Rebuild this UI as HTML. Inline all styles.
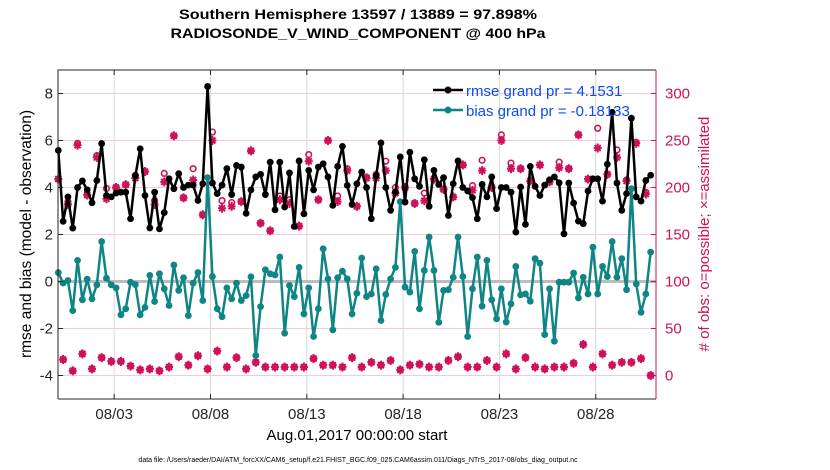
<!DOCTYPE html>
<html><head><meta charset="utf-8"><style>
body{margin:0;background:#fff;}
svg{display:block;font-family:"Liberation Sans",sans-serif;}
</style></head><body>
<svg id="chart" width="830" height="470" viewBox="0 0 830 470" xmlns="http://www.w3.org/2000/svg">
<rect width="830" height="470" fill="#fff"/>
<text x="358" y="19" text-anchor="middle" font-size="14" font-weight="bold" textLength="358" lengthAdjust="spacingAndGlyphs">Southern Hemisphere 13597 / 13889 = 97.898%</text>
<text x="358" y="38" text-anchor="middle" font-size="14" font-weight="bold" textLength="375" lengthAdjust="spacingAndGlyphs">RADIOSONDE_V_WIND_COMPONENT @ 400 hPa</text>
<g id="grid"></g>
<g id="series"></g>
<g id="axes"></g>
<text transform="translate(31,234) rotate(-90)" text-anchor="middle" font-size="15.5">rmse and bias (model - observation)</text>
<text transform="translate(709,234) rotate(-90)" text-anchor="middle" font-size="15" fill="#d0105a"># of obs: o=possible; ×=assimilated</text>
<text x="357" y="440" text-anchor="middle" font-size="15">Aug.01,2017 00:00:00 start</text>
<text x="358" y="462" text-anchor="middle" font-size="7">data file: /Users/raeder/DAI/ATM_forcXX/CAM6_setup/f.e21.FHIST_BGC.f09_025.CAM6assim.011/Diags_NTrS_2017-08/obs_diag_output.nc</text>
<g id="legend">
  <line x1="433" y1="90" x2="463" y2="90" stroke="#000" stroke-width="2.5"/>
  <circle cx="448" cy="90" r="3.5" fill="#000"/>
  <text x="466" y="96" font-size="15" fill="#0a4cf0">rmse grand pr = 4.1531</text>
  <line x1="433" y1="110" x2="463" y2="110" stroke="#0f8585" stroke-width="2.5"/>
  <circle cx="448" cy="110" r="3.5" fill="#0f8585"/>
  <text x="466" y="116" font-size="15" fill="#0a4cf0">bias grand pr = -0.18133</text>
</g>
</svg>
<script>
const rmse=[5.58,2.56,3.6,2.27,4.0,4.28,3.9,3.35,4.3,5.87,
3.66,3.6,3.76,3.8,3.8,2.67,4.5,5.65,3.66,2.28,
3.8,2.24,2.93,4.37,3.95,4.59,4.0,4.1,4.1,3.45,
4.16,8.3,4.19,3.74,4.1,4.8,3.7,4.94,4.87,2.9,
3.9,4.45,4.56,3.7,5.08,3.05,5.08,3.17,4.62,2.34,
5.13,2.88,4.73,3.9,4.87,5.01,4.45,3.24,4.9,5.75,
4.09,3.28,4.16,4.66,4.0,2.67,4.5,5.9,4.0,3.03,
3.8,5.3,3.38,5.5,4.37,4.05,5.18,3.2,4.73,4.13,
4.42,2.81,4.16,5.13,4.0,3.85,3.57,2.67,4.13,3.6,
4.45,3.1,4.0,4.0,3.8,2.1,4.02,2.43,4.9,4.05,
3.66,4.1,4.33,4.45,4.2,2.03,4.19,3.34,2.57,2.46,
3.85,4.37,4.37,3.42,4.99,7.2,4.19,3.03,3.74,6.95,
3.6,3.42,4.3,4.52];
const bias=[0.38,-0.07,0.04,-1.24,0.9,-0.78,0.1,-0.74,-0.14,1.7,
0.14,-0.14,-0.27,-1.42,-1.16,-0.03,-0.13,-1.42,-1.1,0.26,
-0.85,0.33,-0.31,-1.02,0.7,-0.38,0.16,-1.45,-0.07,0.38,
-0.81,4.42,0.21,-1.16,-1.5,-0.27,-0.74,-0.07,-0.81,-0.6,
0.2,-3.15,-1.07,0.5,0.33,0.28,1.04,-2.2,-0.17,-0.64,
0.6,-1.38,-0.27,-2.34,-1.16,1.39,0.11,-2.06,0.16,0.44,
0.11,-1.38,-0.5,1.0,-0.64,-0.53,0.54,-1.66,-0.55,0.11,
0.6,3.4,-0.24,-0.45,1.28,-1.16,0.47,1.89,0.47,-1.74,
-0.38,-0.35,0.18,1.89,0.21,-2.34,-0.31,1.04,-1.05,0.9,
-0.78,-1.59,-0.31,-1.73,-0.95,0.64,-0.57,-0.53,-0.84,0.97,
0.78,-2.26,-0.31,-2.54,-0.03,-0.03,-0.03,0.36,-0.7,0.18,
-0.53,1.46,-0.53,0.64,0.21,1.7,0.18,0.97,-0.35,3.95,
-0.1,-1.31,-0.53,1.25];
const assimilated=[209,17,182,5,245,23,192,7,232,19,
188,15,200,15,203,10,210,6,217,7,
182,5,206,9,255,20,189,11,208,21,
171,7,250,26,178,9,180,19,185,7,
239,14,162,9,154,9,187,9,183,9,
159,9,228,18,187,11,250,11,185,9,
218,19,180,9,210,14,210,11,218,16,
194,6,200,11,183,12,186,9,209,9,
198,16,190,20,224,9,197,9,218,16,
200,9,250,23,220,7,220,19,207,9,
224,7,206,9,221,9,220,13,256,33,
209,9,242,23,214,11,232,14,207,14,
247,18,193,0];
const possible=[209,17,185,5,247,23,192,7,234,19,
199,15,200,15,203,10,213,6,217,7,
186,5,215,9,255,20,189,11,220,21,
171,7,259,26,186,9,184,19,185,7,
239,14,162,9,154,9,191,9,187,9,
159,9,235,18,187,11,250,11,191,9,
220,19,180,9,211,14,214,11,228,16,
200,6,200,11,183,12,194,9,209,9,
198,16,190,20,224,9,202,9,229,16,
200,9,256,23,226,7,220,19,207,9,
224,7,206,9,227,9,220,13,256,33,
209,9,263,23,214,11,240,14,208,14,
248,18,195,0];
const leftTicks=[-4,-2,0,2,4,6,8];
const rightTicks=[0,50,100,150,200,250,300];
const dateLabels=["08/03","08/08","08/13","08/18","08/23","08/28"];
const dateTickIdx=[11.6,31.6,51.6,71.6,91.6,111.6];

const NS="http://www.w3.org/2000/svg";
const L=58,R=656,T=70,B=399;
const yMin=-5,yMax=9,rMin=-25,rMax=325;
const x0=58.3,dx=4.816;
const xs=i=>x0+i*dx;
const yl=v=>B-(v-yMin)/(yMax-yMin)*(B-T);
const yr=v=>B-(v-rMin)/(rMax-rMin)*(B-T);
function mk(tag,attrs,parent){const e=document.createElementNS(NS,tag);for(const k in attrs)e.setAttribute(k,attrs[k]);parent.appendChild(e);return e;}
const grid=document.getElementById('grid'),ser=document.getElementById('series'),ax=document.getElementById('axes');
const PINK="#d0105a",TEAL="#0f8585";
leftTicks.forEach(v=>{const g=mk('line',{x1:L,x2:R,y1:yl(v),y2:yl(v),stroke:'#f3c9dc','stroke-width':1},grid);

});
dateTickIdx.forEach(ix=>{const g=mk('line',{x1:xs(ix),x2:xs(ix),y1:T,y2:B,stroke:'#d8d8d8','stroke-width':1},grid);

});
const z=mk('line',{x1:L,x2:R,y1:yl(0),y2:yl(0),stroke:'#bdbdbd','stroke-width':3},grid);


assimilated.forEach((v,i)=>{
 const cx=xs(i),cy=yr(v);
 const g=mk('g',{stroke:PINK,'stroke-width':2,fill:PINK},ser);
 
 
 mk('line',{x1:cx-4,x2:cx+4,y1:cy,y2:cy},g);
 mk('line',{x1:cx,x2:cx,y1:cy-4.5,y2:cy+4.5},g);
 mk('line',{x1:cx-3,x2:cx+3,y1:cy-3,y2:cy+3},g);
 mk('line',{x1:cx-3,x2:cx+3,y1:cy+3,y2:cy-3},g);
 mk('circle',{cx:cx,cy:cy,r:2.5,stroke:'none'},g);
});
possible.forEach((v,i)=>{
 const c=mk('circle',{cx:xs(i),cy:yr(v),r:2.8,fill:'none',stroke:PINK,'stroke-width':1.6},ser);
 
 
});
function series(arr,color,name){
 const p=mk('polyline',{points:arr.map((v,i)=>xs(i)+','+yl(v)).join(' '),fill:'none',stroke:color,'stroke-width':2.5,'stroke-linejoin':'round'},ser);
 
 
 arr.forEach((v,i)=>{const c=mk('circle',{cx:xs(i),cy:yl(v),r:3.4,fill:color},ser);
 
 });
}
series(bias,TEAL,'bias');
series(rmse,'#000','rmse');
const fr=mk('path',{d:`M${L},${B}L${L},${T}L${R},${T}`,fill:'none',stroke:'#262626','stroke-width':1},ax);


const xb=mk('line',{x1:L,x2:R,y1:B,y2:B,stroke:'#262626','stroke-width':1},ax);


const ra=mk('line',{x1:R,x2:R,y1:T,y2:B,stroke:PINK,'stroke-width':1},ax);


leftTicks.forEach(v=>{
 mk('line',{x1:L,x2:L+5,y1:yl(v),y2:yl(v),stroke:'#262626'},ax);
 const t=mk('text',{x:L-5,y:yl(v)+5,'text-anchor':'end','font-size':15,fill:'#262626'},ax);
 t.textContent=v;
 
 
});
rightTicks.forEach(v=>{
 mk('line',{x1:R-5,x2:R,y1:yr(v),y2:yr(v),stroke:PINK},ax);
 const t=mk('text',{x:R+9,y:yr(v)+5,'font-size':15,fill:PINK},ax);
 t.textContent=v;
 
 
});
dateTickIdx.forEach((ix,k)=>{
 mk('line',{x1:xs(ix),x2:xs(ix),y1:B,y2:B-5,stroke:'#262626'},ax);
 mk('line',{x1:xs(ix),x2:xs(ix),y1:T,y2:T+5,stroke:'#262626'},ax);
 const t=mk('text',{x:xs(ix),y:B+20,'text-anchor':'middle','font-size':15,fill:'#262626'},ax);
 t.textContent=dateLabels[k];
 
 
});
</script>
</body></html>
